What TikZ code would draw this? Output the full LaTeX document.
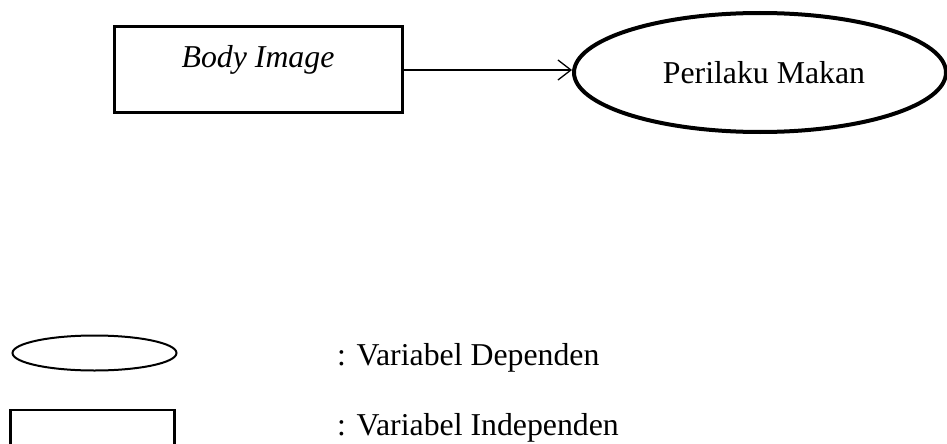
\documentclass[tikz,border=0pt]{standalone}
\usepackage{fontspec}
\setmainfont{Liberation Serif}
\usetikzlibrary{shapes.geometric,arrows.meta}
\begin{document}
\begin{tikzpicture}[x=1pt,y=-1pt,
  txt/.style={font=\fontsize{31.8}{38}\selectfont, inner sep=0pt, anchor=base},
  varbox/.style={draw, rectangle, inner sep=0pt},
  varell/.style={draw, ellipse, inner sep=0pt}]
\useasboundingbox (0,0) rectangle (947,444);
\node[varbox, line width=3pt, minimum width=288pt, minimum height=85pt] (bi) at (258,69.5) {};
\node[txt, font=\fontsize{31.8}{38}\selectfont\itshape] (bitext) at (258,67) {Body Image};
\node[varell, line width=4pt, minimum width=372pt, minimum height=119pt] (pm) at (760,72.5) {};
\node[txt] (pmtext) at (764,83) {Perilaku Makan};
\draw[line width=1.3pt, -{Straight Barb[length=13pt,width=20pt,line width=1.3pt]}] (bi.east |- 0,70) -- (pm.west |- 0,70);
\node[varell, line width=2pt, minimum width=164pt, minimum height=35pt] (le) at (94.5,353) {};
\node[varbox, line width=2.5pt, minimum width=164pt, minimum height=40pt] (lr) at (92.5,430) {};
\node[txt, anchor=base west] (ltext1) at (337,365) {: Variabel Dependen};
\node[txt, anchor=base west] (ltext2) at (337,435) {: Variabel Independen};
\end{tikzpicture}
\end{document}
